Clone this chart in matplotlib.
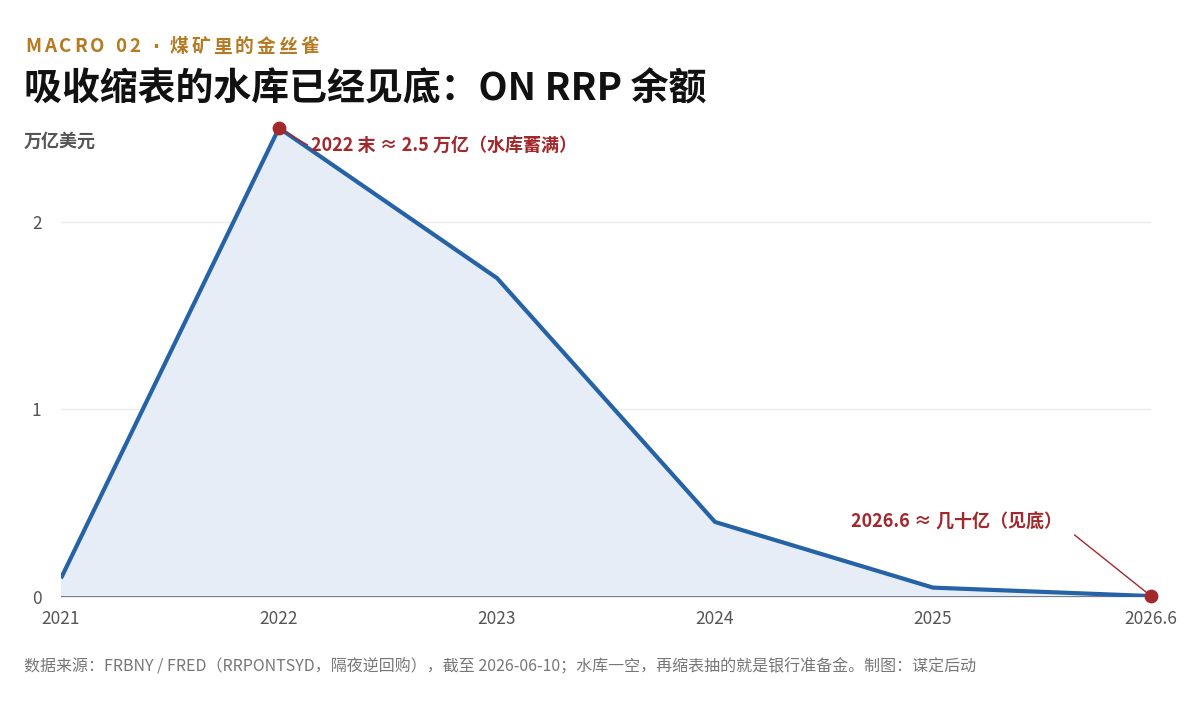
import numpy as np
import matplotlib.pyplot as plt

plt.rcParams['font.family'] = ['Noto Sans CJK SC', 'DejaVu Sans']

# ON RRP balance, trillion USD
years = ["2021", "2022", "2023", "2024", "2025", "2026.6"]
rrp = [0.10, 2.50, 1.70, 0.40, 0.05, 0.005]
yticks = [0, 1, 2]

line_color = "#2563a6"
fill_color = "#e6edf6"
red = "#a3282c"
grey = "#555555"

W, H = 1204, 712
fig = plt.figure(figsize=(W / 100, H / 100), dpi=100)
ax = fig.add_axes([61 / W, 115 / H, 1090 / W, 469 / H])

x = np.arange(len(years))
ax.fill_between(x, rrp, 0, color=fill_color, zorder=1)
ax.plot(x, rrp, color=line_color, lw=3, zorder=3, solid_capstyle="butt")
ax.axhline(0, color="#707070", lw=2, zorder=2)

ax.set_xlim(x[0], x[-1])
ax.set_ylim(0, 2.5)
ax.set_xticks(x)
ax.set_xticklabels(years)
ax.set_yticks(yticks)
ax.set_yticklabels([str(t) for t in yticks])
ax.tick_params(length=0, labelsize=12.5, colors=grey)
ax.tick_params(axis="x", pad=9)
ax.tick_params(axis="y", pad=14)
ax.grid(axis="y", color="#ebebeb", lw=1, zorder=0)
ax.set_axisbelow(True)
for s in ax.spines.values():
    s.set_visible(False)

# highlighted points
peak = int(np.argmax(rrp))
ax.scatter([x[peak], x[-1]], [rrp[peak], rrp[-1]], s=80, color=red, zorder=5, clip_on=False)

ax.text(x[peak] + 0.147, rrp[peak] - 0.09, "2022 末 ≈ 2.5 万亿（水库蓄满）",
        fontsize=13, fontweight="bold", color=red, va="center", ha="left", zorder=6)
ax.plot([x[peak], x[peak] + 0.13], [rrp[peak], rrp[peak] - 0.09], color=red, lw=1, zorder=4)

ax.text(x[-1] - 0.89, 0.40, "2026.6 ≈ 几十亿（见底）",
        fontsize=13, fontweight="bold", color=red, va="center", ha="center", zorder=6)
ax.plot([x[-1] - 0.35, x[-1]], [0.33, rrp[-1]], color=red, lw=1, zorder=4, clip_on=False)

# kicker with letter spacing
renderer = fig.canvas.get_renderer()
cx = 25 / W
for ch in "MACRO 02 · 煤矿里的金丝雀":
    fam = ["DejaVu Sans"] if ch == "·" else ["Noto Sans CJK SC", "DejaVu Sans"]
    t = fig.text(cx, 1 - 47 / H, ch, fontsize=13.5, fontweight="bold", family=fam,
                 color="#b57a22", va="center", ha="left")
    w = t.get_window_extent(renderer).width
    if ch == " ":
        w = 5
    cx += (w + 3.0) / W

fig.text(24 / W, 1 - 89 / H, "吸收缩表的水库已经见底：ON RRP 余额", fontsize=27.3,
         fontweight="heavy", color="#111111", va="center", ha="left")
fig.text(24 / W, 1 - 141 / H, "万亿美元", fontsize=13, fontweight="bold",
         color=grey, va="center", ha="left")
fig.text(24 / W, 1 - 667 / H,
         "数据来源：FRBNY / FRED（RRPONTSYD，隔夜逆回购），截至 2026-06-10；水库一空，再缩表抽的就是银行准备金。制图：谋定后动",
         fontsize=11.5, color="#777777", va="center", ha="left")

fig.savefig("out.png", dpi=100, facecolor="white")
